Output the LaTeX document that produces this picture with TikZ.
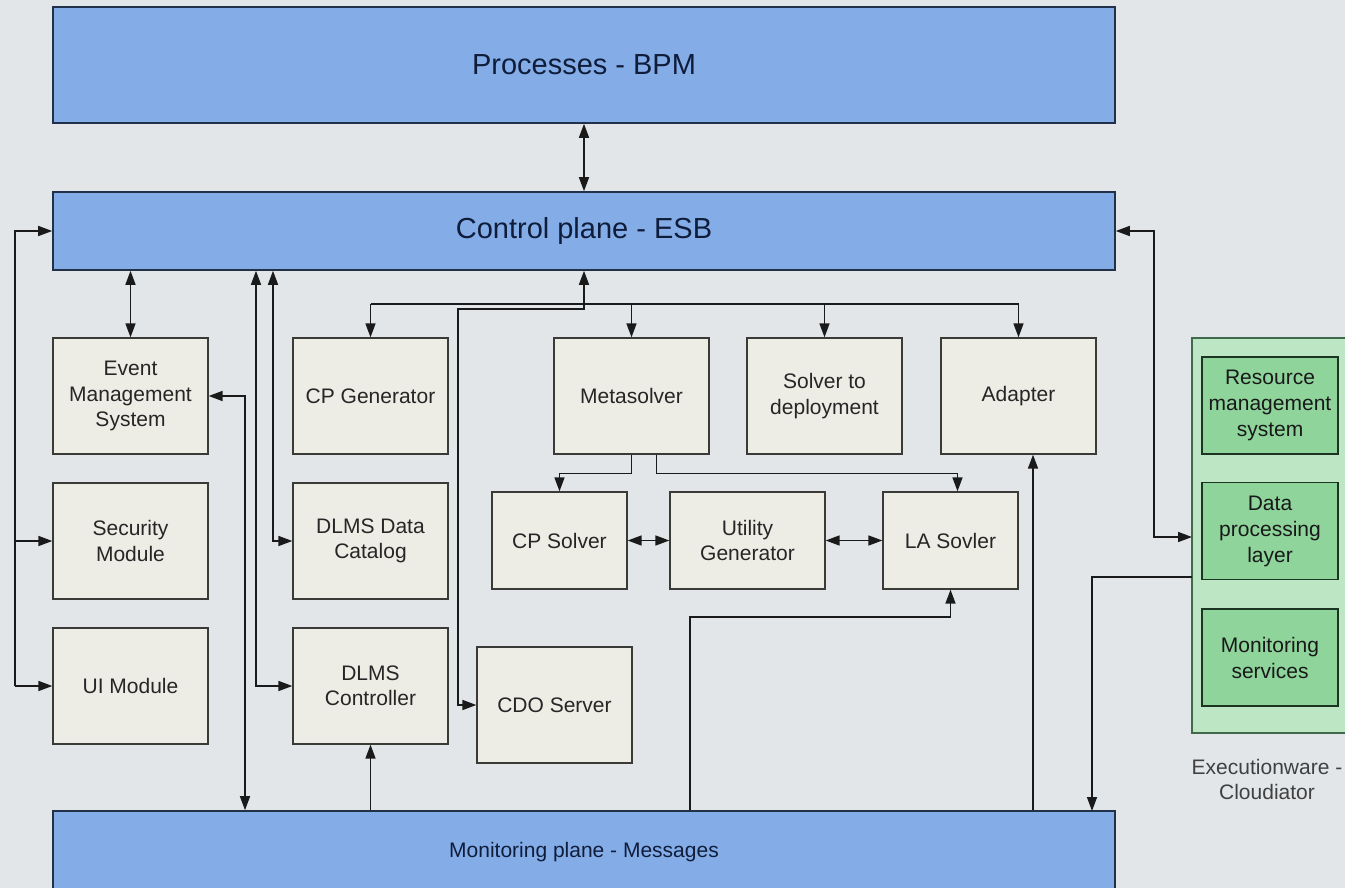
\documentclass[tikz,border=0pt]{standalone}
\usepackage{fontspec}
\setmainfont{Liberation Sans}
\usetikzlibrary{arrows.meta,positioning}
\definecolor{cbg}{HTML}{E3E6E9}
\definecolor{cbar}{HTML}{84ADE8}
\definecolor{cbarln}{HTML}{22314A}
\definecolor{cbartx}{HTML}{0F1C3A}
\definecolor{cbox}{HTML}{EDECE5}
\definecolor{cboxln}{HTML}{3A3A36}
\definecolor{cgrn}{HTML}{BDE7C4}
\definecolor{cgrnln}{HTML}{3F6B4A}
\definecolor{cgrnb}{HTML}{8ED49B}
\definecolor{cgrnbln}{HTML}{1C3522}
\definecolor{cln}{HTML}{1A1A1A}

\begin{document}
\begin{tikzpicture}[x=1pt,y=-1pt,>={Triangle[length=14pt,width=10pt]},
  bar/.style={draw=cbarln,line width=1.6pt,fill=cbar,text=cbartx,minimum width=1062pt,inner sep=0pt},
  comp/.style={draw=cboxln,line width=1.3pt,fill=cbox,text=black!85,minimum width=155pt,minimum height=116pt,
    align=center,inner sep=0pt,font=\fontsize{21}{25.5}\selectfont},
  solv/.style={comp,minimum width=135pt,minimum height=97pt},
  res/.style={draw=cgrnbln,line width=1.3pt,fill=cgrnb,text=black!90,minimum width=136pt,minimum height=97pt,
    align=center,inner sep=0pt,font=\fontsize{21}{26}\selectfont},
  link/.style={draw=cln,line width=1.6pt}]
\useasboundingbox (0,0) rectangle (1345,888);
\fill[cbg] (0,0) rectangle (1345,888);

% planes
\node[bar,minimum height=116pt,font=\fontsize{29}{34}\selectfont] (bpm) at (584,65) {Processes - BPM};
\node[bar,minimum height=78pt,font=\fontsize{29}{34}\selectfont] (esb) at (584,231) {Control plane - ESB};
\node[bar,minimum height=82pt,font=\fontsize{21}{25}\selectfont] (mon) at (584,852) {Monitoring plane - Messages};

% components
\node[comp] (ems) at (130.5,396) {Event\\Management\\System};
\node[comp] (sec) at (130.5,541) {Security\\Module};
\node[comp] (ui) at (130.5,686) {UI Module};
\node[comp] (cpgen) at (370.5,396) {CP Generator};
\node[comp] (catalog) at (370.5,541) {DLMS Data\\Catalog};
\node[comp] (dlmsctl) at (370.5,686) {DLMS\\Controller};
\node[comp] (cdo) at (554.5,705) {CDO Server};
\node[comp] (meta) at (631.5,396) {Metasolver};
\node[comp] (s2d) at (824.5,396) {Solver to\\deployment};
\node[comp] (adapter) at (1018.5,396) {Adapter};
\node[solv] (cpsol) at (559.5,540.5) {CP Solver};
\node[comp,minimum height=97pt] (util) at (747.5,540.5) {Utility\\Generator};
\node[solv] (lasol) at (950.5,540.5) {LA Sovler};

% executionware
\node[draw=cgrnln,line width=1.3pt,fill=cgrn,minimum width=168pt,minimum height=395pt,inner sep=0pt] (exec) at (1276,535.5) {};
\node[res] (rms) at (1270,405.5) {Resource\\management\\system};
\node[res] (dpl) at (1270,531) {Data\\processing\\layer};
\node[res] (msv) at (1270,657.5) {Monitoring\\services};
\node[font=\fontsize{21}{25}\selectfont,text=black!75,align=center] (execlbl) at (1267,779) {Executionware -\\Cloudiator};

% BPM <-> ESB
\draw[link,<->] (bpm.south) -- (esb.north);
\draw[link,<->] (ems.north) -- (ems.north |- esb.south);

% left bus
\coordinate (lbus) at (15,686);
\draw[link,->] (lbus) |- (esb.west);
\draw[link,->] (lbus |- sec.west) -- (sec.west);
\draw[link,->] (lbus) -- (ui.west);

% DLMS lines
\coordinate (ctlbus) at (256,686);
\coordinate (catbus) at (273,541);
\draw[link,<->] (esb.south -| ctlbus) -- (ctlbus) -- (dlmsctl.west);
\draw[link,<->] (esb.south -| catbus) -- (catbus) -- (catalog.west);

% event management <-> monitoring
\coordinate (emsbus) at (245,396);
\draw[link,<->] (ems.east) -- (emsbus) -- (emsbus |- mon.north);

% ESB fan-out
\coordinate (bus) at (584,304);
\draw[link] (bus -| cpgen.north) -- (bus -| adapter.north);
\foreach \n in {cpgen,meta,s2d,adapter} \draw[link,->] (bus -| \n.north) -- (\n.north);

% CDO server
\coordinate (cdobus) at (458,309);
\draw[link,<->] (cdo.west) -| (cdobus) -- (cdobus -| esb.south) -- (esb.south);

% metasolver to solvers
\draw[link,->] (meta.south) -- ++(0,19) -| (cpsol.north);
\draw[link,->] ([xshift=25pt]meta.south) -- ++(0,19) -| ([xshift=7pt]lasol.north);
\draw[link,<->] (cpsol.east) -- (util.west);
\draw[link,<->] (util.east) -- (lasol.west);

% monitoring plane up
\draw[link,->] (mon.north -| dlmsctl.south) -- (dlmsctl.south);
\coordinate (lajog) at (690,617);
\draw[link,->] (mon.north -| lajog) -- (lajog) -| (lasol.south);
\coordinate (adin) at ([xshift=14.5pt]adapter.south);
\draw[link,->] (mon.north -| adin) -- (adin);

% executionware links
\coordinate (dplin) at (1192,537);
\draw[link,<->] (esb.east) -| ([xshift=-38pt]dplin) -- (dplin);
\coordinate (monout) at (1192,577);
\coordinate (monin) at (1092,811);
\draw[link,->] (monout) -| (monin);
\end{tikzpicture}
\end{document}
